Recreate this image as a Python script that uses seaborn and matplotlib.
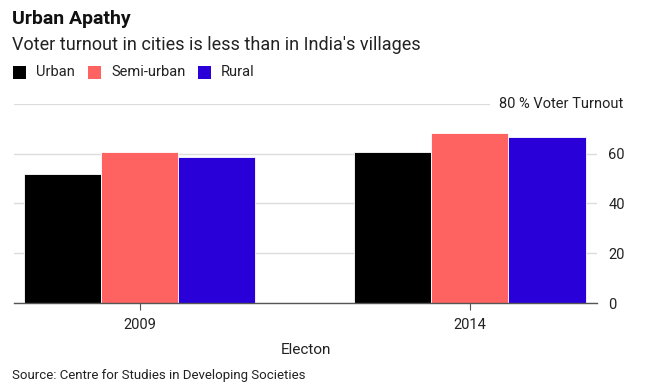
import pandas as pd
import seaborn as sns
import matplotlib.pyplot as plt
from matplotlib.patches import Rectangle

elections = ["2009", "2014"]
groups = ["Urban", "Semi-urban", "Rural"]
urban = [52.0, 60.8]
semi_urban = [60.6, 68.5]
rural = [58.7, 66.6]
palette = {"Urban": "#000000", "Semi-urban": "#ff6361", "Rural": "#2a00d9"}

df = pd.DataFrame(
    {
        "Electon": elections * 3,
        "Area": [g for g in groups for _ in elections],
        "Turnout": urban + semi_urban + rural,
    }
)

sns.set_style("white")
plt.rcParams["font.family"] = ["Liberation Sans Narrow", "Roboto", "DejaVu Sans"]

W, H = 654, 392
fig = plt.figure(figsize=(W / 100, H / 100), dpi=100)
ax = fig.add_axes([0.0214, 0.227, 0.8916, 0.508])

sns.barplot(
    data=df,
    x="Electon",
    y="Turnout",
    hue="Area",
    hue_order=groups,
    palette=palette,
    saturation=1,
    width=0.7,
    edgecolor="white",
    linewidth=0.6,
    legend=False,
    ax=ax,
    zorder=3,
)

ax.set_ylim(0, 80)
ax.set_xlim(-0.38, 1.385)
ax.set_yticks([0, 20, 40, 60, 80])
ax.set_yticklabels(["0", "20", "40", "60", ""])
ax.yaxis.tick_right()
ax.grid(axis="y", color="#dcdcdc", linewidth=1, zorder=0)
for s in ["top", "right", "left"]:
    ax.spines[s].set_visible(False)
ax.spines["bottom"].set_color("#555555")
ax.spines["bottom"].set_linewidth(1)
ax.spines["bottom"].set_zorder(4)
ax.tick_params(axis="y", length=0, pad=8, labelsize=10.5, labelcolor="#222222")
ax.tick_params(axis="x", length=5, color="#555555", pad=6, labelsize=10.5,
               labelcolor="#222222", bottom=True)
ax.set_ylabel("")
ax.set_xlabel("Electon", fontsize=11, color="#222222", labelpad=8)

ax.text(1.044, 80, "80 % Voter Turnout", transform=ax.get_yaxis_transform(),
        ha="right", va="center", fontsize=10.5, color="#222222", clip_on=False,
        zorder=5, bbox=dict(facecolor="white", edgecolor="none", pad=6))

fig.text(12 / W, 0.952, "Urban Apathy", fontsize=14, fontweight="bold",
         color="#111111", va="center")
fig.text(12 / W, 0.885, "Voter turnout in cities is less than in India's villages",
         fontsize=13, color="#222222", va="center")

# legend squares placed at the reference's pixel columns
for g, px in zip(groups, [13, 88, 198]):
    fig.patches.append(Rectangle((px / W, 1 - 79 / H), 13 / W, 13 / H,
                                 transform=fig.transFigure,
                                 facecolor=palette[g], edgecolor="none"))
    fig.text((px + 23) / W, 1 - 72 / H, g, fontsize=10.5, color="#222222",
             va="center")

fig.text(12 / W, 0.043, "Source: Centre for Studies in Developing Societies",
         fontsize=9.5, color="#222222", va="center")

fig.savefig("out.png", dpi=100)
